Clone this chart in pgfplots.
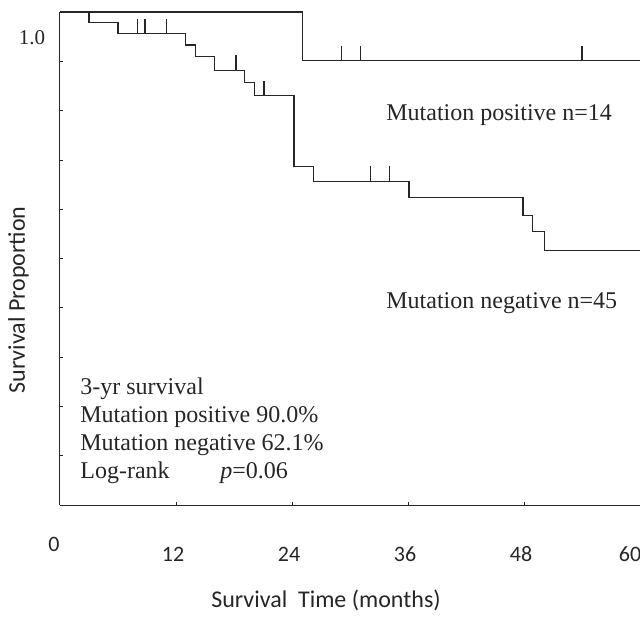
\documentclass[border=0pt]{standalone}
\usepackage{fontspec}
\setmainfont{Liberation Serif}
\newfontfamily\carlito{Carlito}
\usepackage{pgfplots}
\pgfplotsset{compat=1.18}
\pgfdeclareplotmark{cens}{\pgfpathmoveto{\pgfpointorigin}\pgfpathlineto{\pgfpoint{0pt}{7.5pt}}\pgfusepathqstroke}
\definecolor{ink}{gray}{0.15}
\begin{document}
\begin{tikzpicture}
\begin{axis}[
  at={(0,0)}, anchor=south west,
  scale only axis, width=290pt, height=246.5pt,
  xmin=0, xmax=60, ymin=0, ymax=1,
  axis x line=bottom, axis y line=left,
  axis line style={-, ink, line width=0.5pt},
  tick align=inside, major tick length=1.5pt,
  tick style={ink, line width=0.4pt},
  xtick={12,24,36,48,60}, xticklabels={12,24,36,48,{}},
  xticklabel style={anchor=center, yshift=-24.5pt, xshift=-1.5pt, font=\carlito\fontsize{11}{13}\selectfont, text=ink},
  ytick={0,0.1,0.2,0.3,0.4,0.5,0.6,0.7,0.8,0.9,1.0}, yticklabels={},
  xlabel={Survival\ \ Time (months)},
  xlabel style={at={(axis description cs:0.4586,-0.1927)}, anchor=center, font=\carlito\fontsize{12}{14}\selectfont, text=ink},
  ylabel={Survival Proportion},
  ylabel style={at={(axis description cs:-0.0716,0.4158)}, anchor=center, font=\carlito\fontsize{12}{14}\selectfont, text=ink},
]
% Mutation negative n=45
\addplot[const plot, ink, line width=0.6pt] coordinates {
 (0,1) (3,0.978) (6,0.956) (13,0.933) (14,0.910) (16,0.882) (19.1,0.857)
 (20.1,0.830) (24.2,0.686) (26.2,0.657) (36.1,0.624) (47.9,0.588)
 (48.9,0.554) (50.1,0.517) (60,0.517)};
\addplot[only marks, mark=cens, mark options={ink, line width=0.6pt}] coordinates {
 (8.0,0.956) (8.8,0.956) (11.0,0.956) (18.2,0.882) (21.1,0.830) (32.1,0.657) (34.1,0.657)};
% Mutation positive n=14
\addplot[const plot, ink, line width=0.6pt] coordinates {
 (0,1) (25.1,0.901) (60,0.901)};
\addplot[only marks, mark=cens, mark options={ink, line width=0.6pt}] coordinates {
 (29.1,0.901) (31.1,0.901) (54.0,0.901)};
\end{axis}
\node[font=\carlito\fontsize{11}{13}\selectfont, text=ink] at (-3pt,-19.5pt) {0};
\node[font=\carlito\fontsize{11}{13}\selectfont, text=ink] at (285pt,-24.5pt) {60};
\node[font=\fontsize{10.5}{12}\selectfont, text=ink] at (-14pt,233.5pt) {1.0};
\node[font=\fontsize{12}{14}\selectfont, text=ink, anchor=west, inner sep=0pt] at (163pt,195pt) {Mutation positive n=14};
\node[font=\fontsize{12}{14}\selectfont, text=ink, anchor=west, inner sep=0pt] at (163pt,101pt) {Mutation negative n=45};
\node[font=\fontsize{12}{14}\selectfont, text=ink, anchor=west, inner sep=0pt, align=left] at (10pt,37pt) {3-yr survival\\Mutation positive 90.0\%\\Mutation negative 62.1\%\\\makebox[70pt][l]{Log-rank}\textit{p}=0.06};
\pgfresetboundingbox
\useasboundingbox (-30pt,-55.5pt) rectangle (290pt,252.5pt);
\end{tikzpicture}
\end{document}
